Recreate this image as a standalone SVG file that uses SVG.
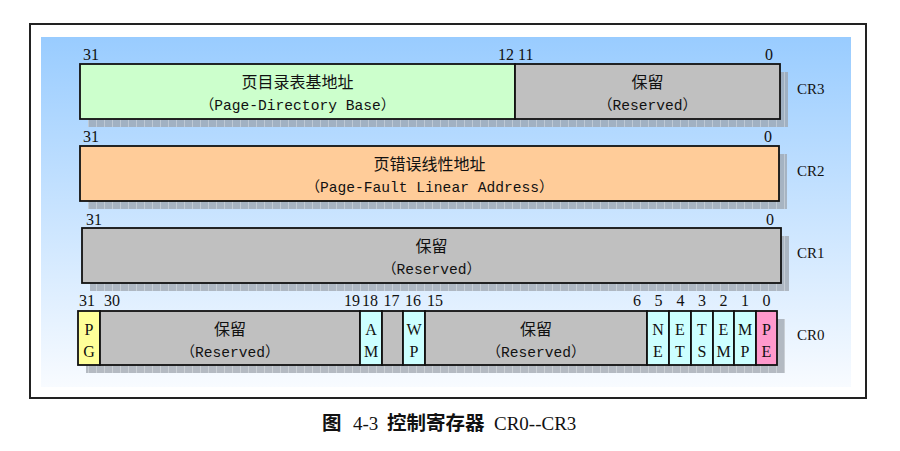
<svg xmlns="http://www.w3.org/2000/svg" width="900" height="451" viewBox="0 0 900 451">
  <defs>
    <linearGradient id="bg" x1="0" y1="0" x2="0" y2="1">
      <stop offset="0" stop-color="#99CCFF"/>
      <stop offset="1" stop-color="#F8FBFF"/>
    </linearGradient>
    <pattern id="shp" width="8" height="8" patternUnits="userSpaceOnUse">
      <rect width="8" height="8" fill="#9ca2ab" fill-opacity="0.72"/>
      <rect width="1" height="8" fill="#ffffff" fill-opacity="0.3"/>
    </pattern>
    <style>
      .frame { fill: #ffffff; stroke: #222; stroke-width: 2; }
      .box { stroke: #111; stroke-width: 1.8; }
      .shadow { fill: url(#shp); }
      .gray { fill: #C0C0C0; }
      .green { fill: #CCFFCC; }
      .orange { fill: #FFCC99; }
      .yellow { fill: #FFFF99; }
      .cyan { fill: #CCFFFF; }
      .pink { fill: #FF99CC; }
      text { fill: #111; }
      .cn { font-family: "Noto Sans CJK SC", sans-serif; font-size: 16px; text-anchor: middle; }
      .en { font-family: "Liberation Mono", "Noto Sans CJK SC", monospace; font-size: 14.6px; text-anchor: middle; }
      .num { font-family: "Liberation Serif", serif; font-size: 16px; }
      .bit { font-family: "Liberation Serif", serif; font-size: 16px; text-anchor: middle; }
      .reg { font-family: "Liberation Serif", serif; font-size: 15px; }
      .cap-cn { font-family: "Noto Sans CJK SC", sans-serif; font-size: 19.5px; font-weight: 700; }
      .cap-en { font-family: "Liberation Serif", serif; font-size: 19px; }
    </style>
  </defs>

  <rect width="900" height="451" fill="#ffffff"/>
  <rect class="frame" x="30" y="24" width="836" height="374"/>
  <rect x="41" y="37" width="810" height="350" fill="url(#bg)"/>

  <!-- CR3 -->
  <g id="cr3">
    <rect class="shadow" x="88" y="72" width="700" height="55"/>
    <g id="cr3-pdb">
      <rect class="box green" x="80" y="64" width="435" height="55"/>
      <text class="cn" x="297.5" y="88">页目录表基地址</text>
      <text class="en" x="297.5" y="109.5">（Page-Directory Base）</text>
    </g>
    <g id="cr3-res">
      <rect class="box gray" x="515" y="64" width="265" height="55"/>
      <text class="cn" x="647.5" y="88">保留</text>
      <text class="en" x="647.5" y="109.5">（Reserved）</text>
    </g>
    <text class="num" x="83" y="60">31</text>
    <text class="num" x="514" y="60" text-anchor="end">12</text>
    <text class="num" x="518" y="60">11</text>
    <text class="num" x="769" y="60" text-anchor="middle">0</text>
    <text class="reg" x="797" y="94">CR3</text>
  </g>

  <!-- CR2 -->
  <g id="cr2">
    <rect class="shadow" x="88" y="154" width="699" height="55"/>
    <g id="cr2-pfla">
      <rect class="box orange" x="80" y="146" width="699" height="55"/>
      <text class="cn" x="429.5" y="170">页错误线性地址</text>
      <text class="en" x="429.5" y="191.5">（Page-Fault Linear Address）</text>
    </g>
    <text class="num" x="83" y="142">31</text>
    <text class="num" x="768" y="142" text-anchor="middle">0</text>
    <text class="reg" x="797" y="175.5">CR2</text>
  </g>

  <!-- CR1 -->
  <g id="cr1">
    <rect class="shadow" x="90" y="236" width="699" height="55"/>
    <g id="cr1-res">
      <rect class="box gray" x="82" y="228" width="699" height="55"/>
      <text class="cn" x="431.5" y="252">保留</text>
      <text class="en" x="431.5" y="273.5">（Reserved）</text>
    </g>
    <text class="num" x="86" y="225">31</text>
    <text class="num" x="770" y="225" text-anchor="middle">0</text>
    <text class="reg" x="797" y="257.5">CR1</text>
  </g>

  <!-- CR0 -->
  <g id="cr0">
    <rect class="shadow" x="86" y="319" width="699" height="54"/>
    <g id="cr0-pg">
      <rect class="box yellow" x="78" y="311" width="22" height="54"/>
      <text class="bit" x="89" y="334.5">P</text>
      <text class="bit" x="89" y="357">G</text>
    </g>
    <g id="cr0-res1">
      <rect class="box gray" x="100" y="311" width="260" height="54"/>
      <text class="cn" x="230" y="335">保留</text>
      <text class="en" x="230" y="356.5">（Reserved）</text>
    </g>
    <g id="cr0-am">
      <rect class="box cyan" x="360" y="311" width="22" height="54"/>
      <text class="bit" x="371" y="334.5">A</text>
      <text class="bit" x="371" y="357">M</text>
    </g>
    <g id="cr0-b17">
      <rect class="box gray" x="382" y="311" width="21" height="54"/>
    </g>
    <g id="cr0-wp">
      <rect class="box cyan" x="403" y="311" width="22" height="54"/>
      <text class="bit" x="414" y="334.5">W</text>
      <text class="bit" x="414" y="357">P</text>
    </g>
    <g id="cr0-res2">
      <rect class="box gray" x="425" y="311" width="222" height="54"/>
      <text class="cn" x="536" y="335">保留</text>
      <text class="en" x="536" y="356.5">（Reserved）</text>
    </g>
    <g id="cr0-ne">
      <rect class="box cyan" x="647" y="311" width="22" height="54"/>
      <text class="bit" x="658" y="334.5">N</text>
      <text class="bit" x="658" y="357">E</text>
    </g>
    <g id="cr0-et">
      <rect class="box cyan" x="669" y="311" width="22" height="54"/>
      <text class="bit" x="680" y="334.5">E</text>
      <text class="bit" x="680" y="357">T</text>
    </g>
    <g id="cr0-ts">
      <rect class="box cyan" x="691" y="311" width="22" height="54"/>
      <text class="bit" x="702" y="334.5">T</text>
      <text class="bit" x="702" y="357">S</text>
    </g>
    <g id="cr0-em">
      <rect class="box cyan" x="713" y="311" width="21" height="54"/>
      <text class="bit" x="723.5" y="334.5">E</text>
      <text class="bit" x="723.5" y="357">M</text>
    </g>
    <g id="cr0-mp">
      <rect class="box cyan" x="734" y="311" width="22" height="54"/>
      <text class="bit" x="745" y="334.5">M</text>
      <text class="bit" x="745" y="357">P</text>
    </g>
    <g id="cr0-pe">
      <rect class="box pink" x="756" y="311" width="21" height="54"/>
      <text class="bit" x="766.5" y="334.5">P</text>
      <text class="bit" x="766.5" y="357">E</text>
    </g>
    <text class="num" x="79" y="306">31</text>
    <text class="num" x="104" y="306">30</text>
    <text class="num" x="360" y="306" text-anchor="end">19</text>
    <text class="num" x="370" y="306" text-anchor="middle">18</text>
    <text class="num" x="391.5" y="306" text-anchor="middle">17</text>
    <text class="num" x="413" y="306" text-anchor="middle">16</text>
    <text class="num" x="427" y="306">15</text>
    <text class="num" x="641" y="306" text-anchor="end">6</text>
    <text class="num" x="658.5" y="306" text-anchor="middle">5</text>
    <text class="num" x="680.5" y="306" text-anchor="middle">4</text>
    <text class="num" x="702" y="306" text-anchor="middle">3</text>
    <text class="num" x="723.5" y="306" text-anchor="middle">2</text>
    <text class="num" x="745" y="306" text-anchor="middle">1</text>
    <text class="num" x="766.5" y="306" text-anchor="middle">0</text>
    <text class="reg" x="797" y="340">CR0</text>
  </g>

  <!-- Caption -->
  <g id="caption">
    <text y="430"><tspan class="cap-cn" x="322">图</tspan><tspan class="cap-en" x="353">4-3</tspan><tspan class="cap-cn" x="387">控制寄存器</tspan><tspan class="cap-en" x="494">CR0--CR3</tspan></text>
  </g>
</svg>
